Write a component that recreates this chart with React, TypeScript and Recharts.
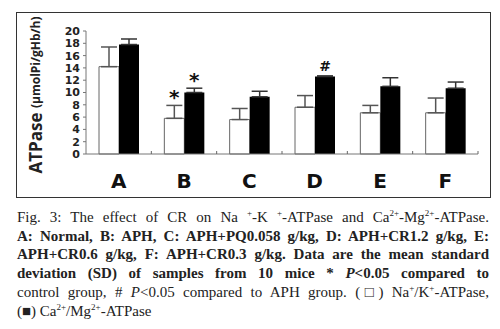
import { BarChart, Bar, XAxis, YAxis, ErrorBar, LabelList } from 'recharts';

const groups = ['A', 'B', 'C', 'D', 'E', 'F'];
const naK = [14.2, 5.8, 5.6, 7.6, 6.7, 6.7];
const naKSd = [3.2, 2.1, 1.8, 1.9, 1.2, 2.4];
const caMg = [17.8, 10.0, 9.3, 12.6, 11.0, 10.7];
const caMgSd = [0.9, 0.7, 0.9, 0.1, 1.4, 1.0];
const naKMarks = ['', '*', '', '', '', ''];
const caMgMarks = ['', '*', '', '#', '', ''];
const yTicks = [0, 2, 4, 6, 8, 10, 12, 14, 16, 18, 20];

const data = groups.map((g, i) => ({
  group: g,
  naK: naK[i],
  naKErr: [0, naKSd[i]],
  caMg: caMg[i],
  caMgErr: [0, caMgSd[i]],
}));

const sans = 'DejaVu Sans';

function CatTick(props: any) {
  const { x, y, payload } = props;
  // half a category band, so the little mark sits on the boundary
  const half = payload.offset || props.width / (props.visibleTicksCount || groups.length) / 2;
  return (
    <g>
      <text x={x} y={y + 34} textAnchor="middle" fontFamily={sans} fontWeight="bold" fontSize={20} fill="#111">
        {payload.value}
      </text>
      <line x1={x + half} x2={x + half} y1={y - 3} y2={y} stroke="#666" strokeWidth={1} />
    </g>
  );
}

function markLabel(marks: string[], values: number[], sds: number[]) {
  return (props: any) => {
    const vb = props.viewBox || props;
    const x = vb.x ?? props.x;
    const y = vb.y ?? props.y;
    const width = vb.width ?? props.width;
    const height = Math.abs(vb.height ?? props.height);
    const i = props.index;
    const mark = marks[i];
    if (!mark) return null;
    const errPx = (height * sds[i]) / values[i];
    const top = y - errPx;
    const cx = x + width / 2;
    if (mark === '#') {
      return (
        <text x={cx} y={top - 5} textAnchor="middle" fontFamily={sans} fontWeight="bold" fontSize={14} fill="#111">
          #
        </text>
      );
    }
    return (
      <text x={cx} y={top - 1} textAnchor="middle" fontFamily={sans} fontWeight="bold" fontSize={20} fill="#111">
        *
      </text>
    );
  };
}

function YTitle() {
  return (
    <text
      x={35}
      y={95}
      transform="rotate(-90, 35, 95)"
      textAnchor="middle"
      dominantBaseline="central"
      fontFamily="Open Sans"
      fontWeight="bold"
      fill="#222"
    >
      <tspan fontSize={17}>ATPase </tspan>
      <tspan fontSize={12}>(μmolPi/gHb/h)</tspan>
    </text>
  );
}

const capLine = { whiteSpace: 'nowrap' as const, textAlign: 'justify' as const, textAlignLast: 'justify' as const };
const sup = { fontSize: 9, lineHeight: 0 };

export default function App() {
  return (
    <div style={{ position: 'absolute', left: 0, top: 0, width: 500, height: 329, background: '#fff' }}>
      <div
        style={{
          position: 'absolute',
          left: 16,
          top: 12,
          width: 475,
          height: 186,
          border: '1px solid #333',
          boxSizing: 'border-box',
        }}
      />
      <div style={{ position: 'absolute', left: 0, top: 0 }}>
        <BarChart width={500} height={200} data={data} margin={{ top: 31, right: 22, bottom: 6, left: 0 }} barGap={0}>
          <XAxis
            dataKey="group"
            height={40}
            tickLine={false}
            tickSize={0}
            tickMargin={0}
            axisLine={{ stroke: '#777' }}
            tick={<CatTick />}
            interval={0}
          />
          <YAxis
            width={86}
            domain={[0, 20]}
            ticks={yTicks}
            interval={0}
            tickSize={3}
            tickMargin={3}
            axisLine={{ stroke: '#777' }}
            tickLine={{ stroke: '#777' }}
            tick={{ fontFamily: sans, fontWeight: 'bold', fontSize: 11, fill: '#222' }}
            label={{ content: () => <YTitle /> }}
          />
          <Bar dataKey="naK" fill="#fff" stroke="#666" strokeWidth={1} barSize={20} isAnimationActive={false}>
            <ErrorBar dataKey="naKErr" width={8} stroke="#555" strokeWidth={1.5} direction="y" />
            <LabelList dataKey="naK" content={markLabel(naKMarks, naK, naKSd)} />
          </Bar>
          <Bar dataKey="caMg" fill="#000" barSize={20} isAnimationActive={false}>
            <ErrorBar dataKey="caMgErr" width={8} stroke="#333" strokeWidth={1.5} direction="y" />
            <LabelList dataKey="caMg" content={markLabel(caMgMarks, caMg, caMgSd)} />
          </Bar>
        </BarChart>
      </div>
      <div
        style={{
          position: 'absolute',
          left: 17,
          top: 208,
          width: 472,
          fontFamily: 'Liberation Serif',
          fontSize: 15,
          lineHeight: '18.7px',
          color: '#222',
        }}
      >
        <div style={capLine}>
          Fig. 3: The effect of CR on Na <sup style={sup}>+</sup>-K <sup style={sup}>+</sup>-ATPase and Ca<sup style={sup}>2+</sup>-Mg<sup style={sup}>2+</sup>-ATPase.
        </div>
        <div style={{ ...capLine, fontWeight: 'bold' }}>A: Normal, B: APH, C: APH+PQ0.058 g/kg, D: APH+CR1.2 g/kg, E:</div>
        <div style={{ ...capLine, fontWeight: 'bold' }}>APH+CR0.6 g/kg, F: APH+CR0.3 g/kg. Data are the mean standard</div>
        <div style={{ ...capLine, fontWeight: 'bold' }}>
          deviation (SD) of samples from 10 mice * <i>P</i>&lt;0.05 compared to
        </div>
        <div style={capLine}>
          control group, # <i>P</i>&lt;0.05 compared to APH group. (□) Na<sup style={sup}>+</sup>/K<sup style={sup}>+</sup>-ATPase,
        </div>
        <div style={{ whiteSpace: 'nowrap' }}>
          (■) Ca<sup style={sup}>2+</sup>/Mg<sup style={sup}>2+</sup>-ATPase
        </div>
      </div>
    </div>
  );
}
